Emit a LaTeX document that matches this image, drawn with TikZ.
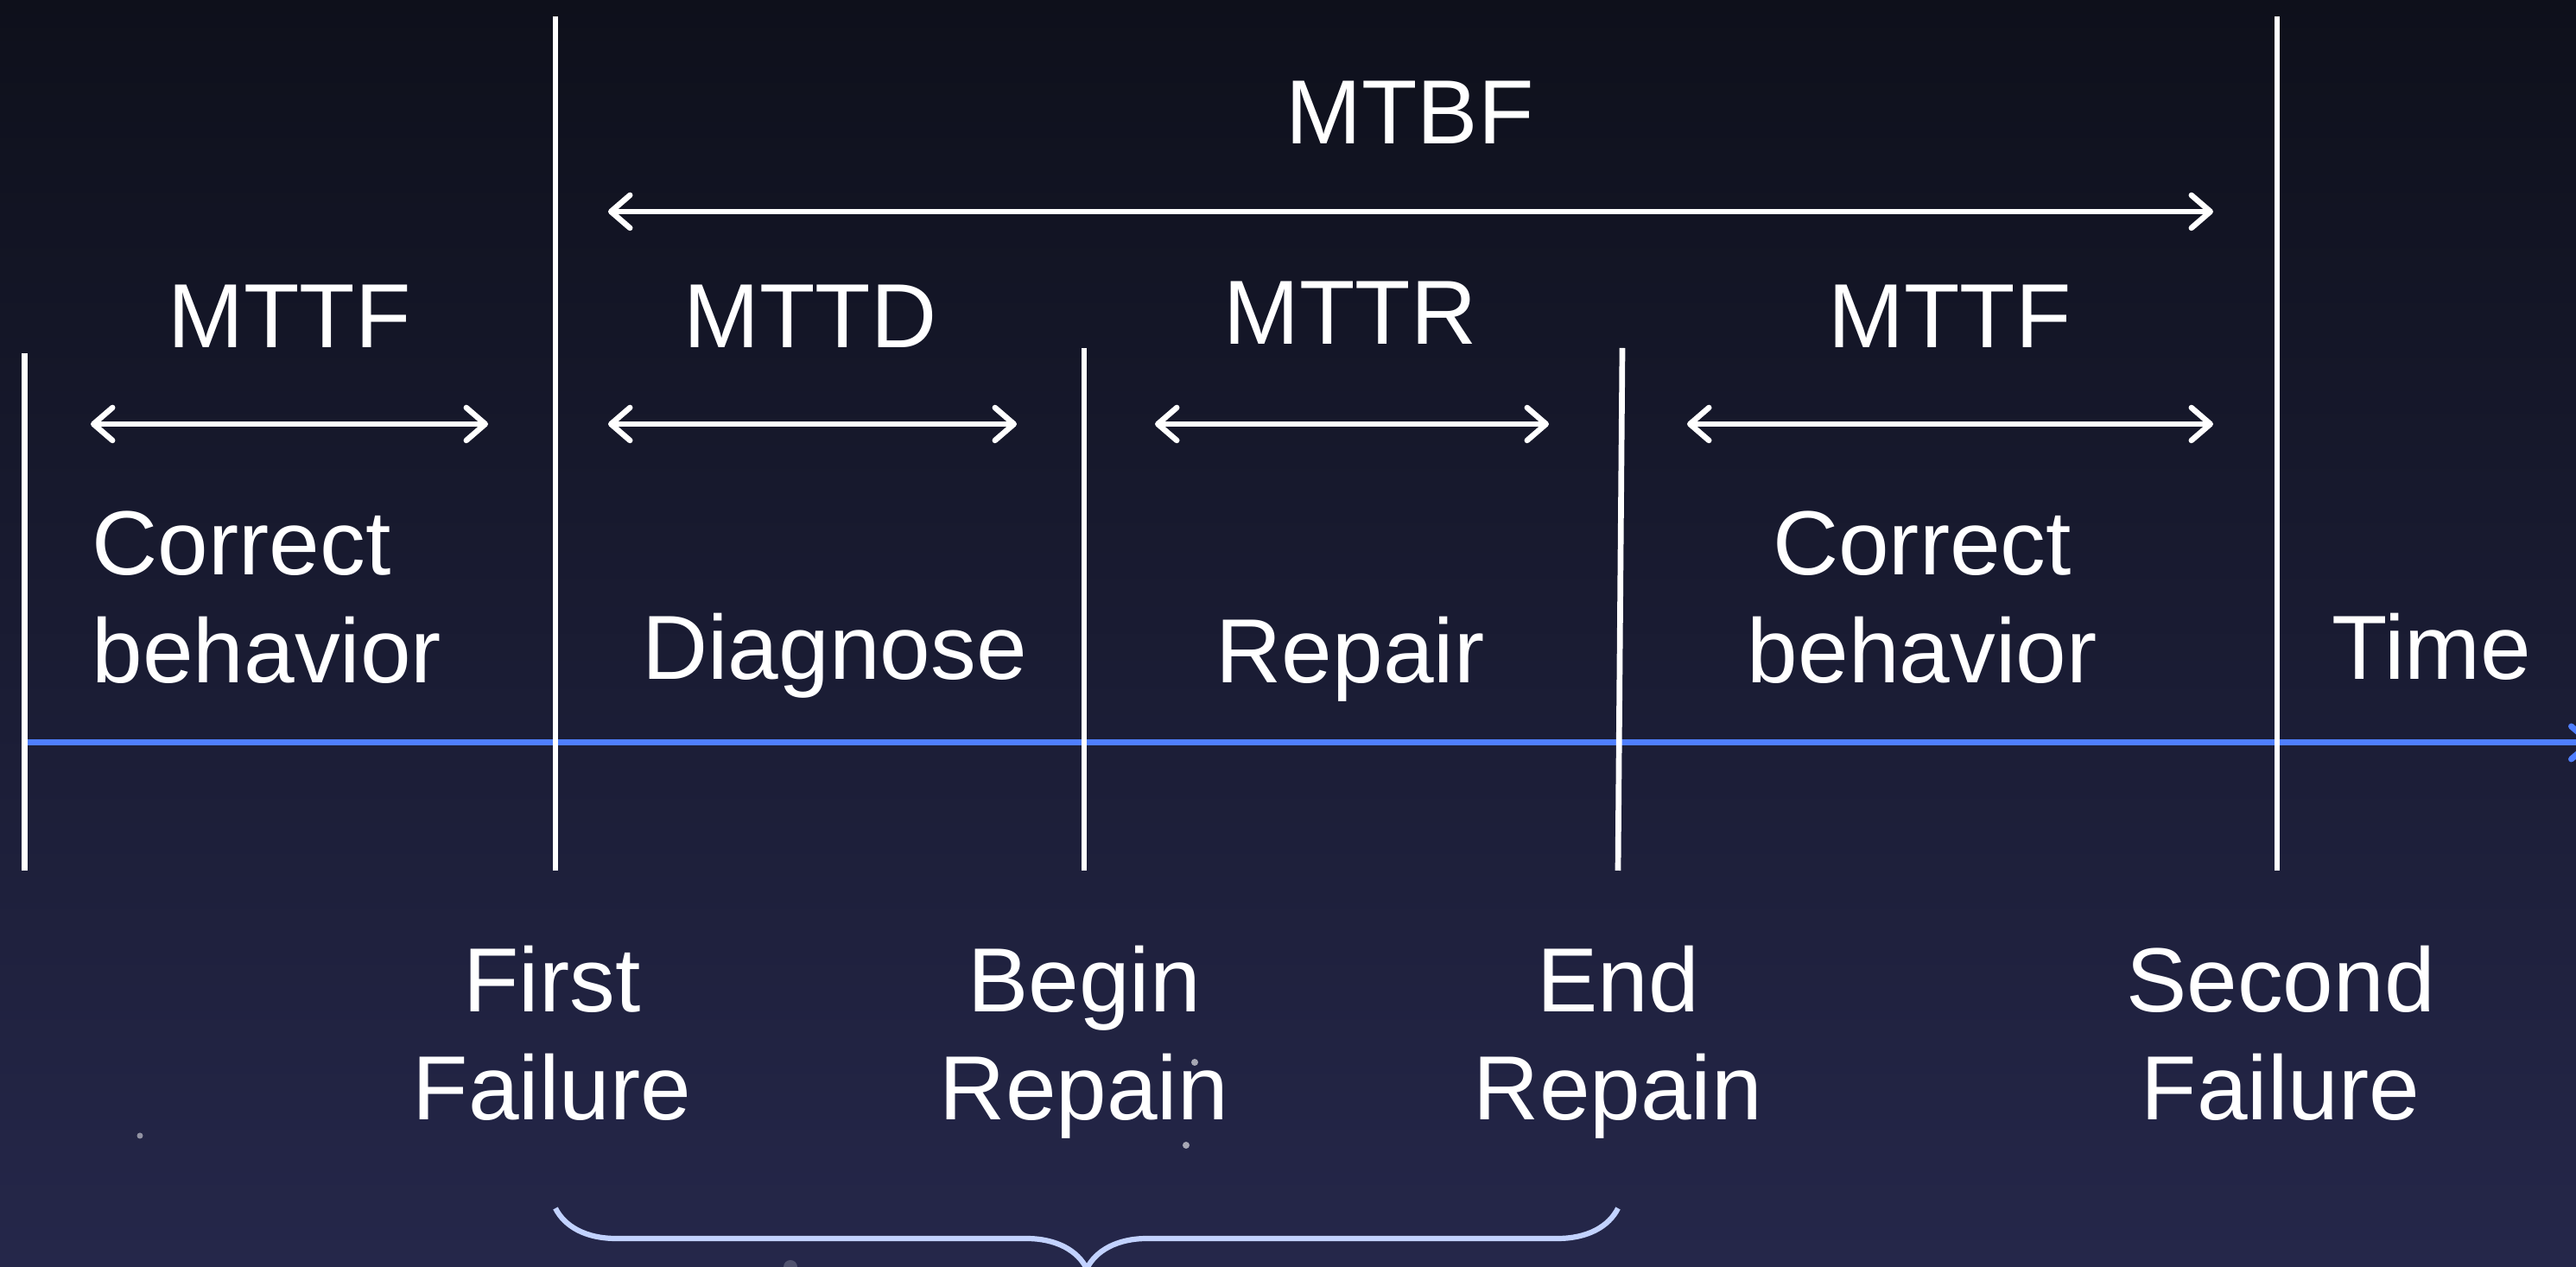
\documentclass[tikz,border=0pt]{standalone}
\usepackage{fontspec}
\setmainfont{Liberation Sans}
\usetikzlibrary{arrows.meta, decorations.pathreplacing, positioning}
\definecolor{bgtop}{HTML}{0E101B}
\definecolor{bgbot}{HTML}{25274A}
\definecolor{timeblue}{HTML}{4F7FFF}
\definecolor{bracecol}{HTML}{C2D2FF}
\tikzset{
  lbl/.style={text=white, inner sep=0pt, font=\fontsize{30}{35.7}\selectfont},
  tick/.style={white, line width=0.067cm},
  span/.style={white, line width=0.065cm, <->},
}

\begin{document}
\begin{tikzpicture}[>={Straight Barb[length=0.22cm,width=0.38cm,round]}]
    \shade[top color=bgtop, bottom color=bgbot] (0,0) rectangle (29.82,14.67);
    \useasboundingbox (0,0) rectangle (29.82,14.67);
    % stars
    \fill[white, opacity=0.5] (1.62,1.52) circle (0.035);
    \fill[white, opacity=0.6] (13.83,2.37) circle (0.04);
    \fill[white, opacity=0.6] (13.73,1.41) circle (0.04);
    \fill[white, opacity=0.2] (9.15,0) circle (0.08);
    % time axis
    \coordinate (t0) at (0.285,6.07);
    \coordinate (tend) at (30.02,6.07);
    \draw[timeblue, line width=0.07cm, ->] (t0) -- (tend);
    % ticks
    \coordinate (s0) at (0.285,10.58); \coordinate (e0) at (0.285,4.59);
    \coordinate (s1) at (6.43,14.48);  \coordinate (e1) at (6.43,4.59);
    \coordinate (s2) at (12.55,10.64); \coordinate (e2) at (12.55,4.59);
    \coordinate (s3) at (18.78,10.64); \coordinate (e3) at (18.73,4.59);
    \coordinate (s4) at (26.36,14.48); \coordinate (e4) at (26.36,4.59);
    \foreach \i in {0,...,4}
        \draw[tick] (s\i) -- (e\i);
    % spans
    \coordinate (ma) at (7.04,12.22);  \coordinate (mb) at (25.62,12.22);
    \coordinate (aa) at (1.05,9.76);   \coordinate (ab) at (5.65,9.76);
    \coordinate (ba) at (7.04,9.76);   \coordinate (bb) at (11.77,9.76);
    \coordinate (ca) at (13.37,9.76);  \coordinate (cb) at (17.93,9.76);
    \coordinate (da) at (19.53,9.76);  \coordinate (db) at (25.62,9.76);
    \draw[span] (ma) -- (mb);
    \draw[span] (aa) -- (ab);
    \draw[span] (ba) -- (bb);
    \draw[span] (ca) -- (cb);
    \draw[span] (da) -- (db);
    % labels
    \node[lbl, anchor=base] (mtbf) at (16.32,13.0) {MTBF};
    \node[lbl, anchor=base] (mttfa) at (3.35,10.64) {MTTF};
    \node[lbl, anchor=base] (mttd) at (9.38,10.64) {MTTD};
    \node[lbl, anchor=base] (mttr) at (15.63,10.68) {MTTR};
    \node[lbl, anchor=base] (mttfb) at (22.57,10.64) {MTTF};
    \node[lbl, anchor=base west, align=left] (corra) at (1.06,6.76) {Correct\\behavior};
    \node[lbl, anchor=base] (diag) at (9.66,6.80) {Diagnose};
    \node[lbl, anchor=base] (rep) at (15.63,6.76) {Repair};
    \node[lbl, anchor=base, align=center] (corrb) at (22.25,6.76) {Correct\\behavior};
    \node[lbl, anchor=base] (time) at (28.15,6.80) {Time};
    \node[lbl, anchor=base, align=center] (ff) at (6.39,1.70) {First\\Failure};
    \node[lbl, anchor=base, align=center] (br) at (12.55,1.70) {Begin\\Repain};
    \node[lbl, anchor=base, align=center] (er) at (18.73,1.70) {End\\Repain};
    \node[lbl, anchor=base, align=center] (sf) at (26.40,1.70) {Second\\Failure};
    % brace
    \draw[bracecol, line width=0.062cm, decorate,
          decoration={brace, mirror, amplitude=0.7cm}] (e1 |- 0,0.68) -- (e3 |- 0,0.68);
\end{tikzpicture}
\end{document}
